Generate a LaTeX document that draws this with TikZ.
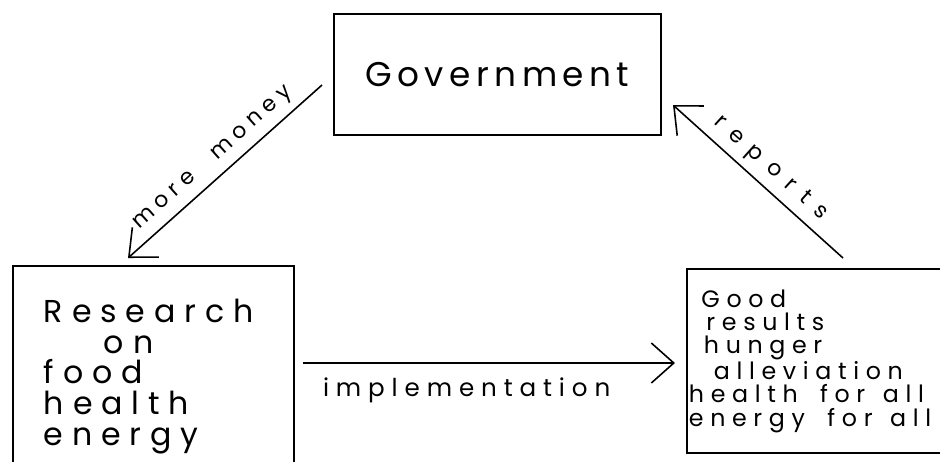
\documentclass[tikz,border=0pt]{standalone}
\usepackage{fontspec}
\usepackage{tikz}
\usetikzlibrary{arrows.meta,positioning}
\newfontfamily\handfont{Poppins}[LetterSpace=16]
\newfontfamily\handwide{Poppins}[LetterSpace=28]
\newfontfamily\handwider{Poppins}[LetterSpace=50]
\newcommand{\wsp}{\hspace{0.45cm}}

\begin{document}
\begin{tikzpicture}[x=0.02cm, y=-0.02cm,
        box/.style={draw, line width=1.1pt, anchor=north west, inner ysep=0pt},
        flow/.style={-{Straight Barb[length=4.5mm, width=8mm, line width=0.9pt]}, line width=0.9pt},
        flowback/.style={{Straight Barb[length=4.5mm, width=8mm, line width=0.9pt]}-, line width=0.9pt},
        flowlabel/.style={font=\handwide\fontsize{12.5}{12}\selectfont, inner sep=4pt}
      ]
      \useasboundingbox (0,0) rectangle (940,461);

      \node[box, minimum width=6.54cm, minimum height=2.42cm,
            font=\handfont\fontsize{19.5}{19}\selectfont] (gov) at (333,13) {Government};

      \node[box, text width=4.38cm, inner xsep=0.62cm, minimum height=4.42cm, align=left,
            font=\handwide\fontsize{18}{17.5}\selectfont] (research) at (12,265)
        {Research\\\hspace*{1.2cm}on\\food\\health\\energy};

      \node[box, text width=5.92cm, inner xsep=0.04cm, minimum height=3.68cm, align=left,
            font=\handwide\fontsize{13.5}{13.2}\selectfont] (good) at (686,268)
        {\hspace*{0.25cm}Good\\\hspace*{0.35cm}results\\\hspace*{0.3cm}hunger\\\hspace*{0.5cm}alleviation\\health\wsp for\hspace{0.35cm}all\\energy\wsp for\hspace{0.35cm}all};

      \coordinate (mmtail) at (322,85);
      \coordinate (mmtip) at (128,258);
      \coordinate (reptail) at (843,258);
      \coordinate (reptip) at (673,105);
      \coordinate (imptail) at (303,363);
      \coordinate (imptip) at (675,363);

      \draw[flowback] (mmtip) -- (mmtail)
        node[midway, sloped, above, flowlabel] (mmlabel) {more\hspace{0.55cm}money};
      \draw[flowback] (reptip) -- (reptail)
        node[midway, sloped, above, flowlabel, font=\handwider\fontsize{12.5}{12}\selectfont] (replabel) {reports};
      \draw[flow] (imptail) -- (imptip)
        node[pos=0.44, below, flowlabel, yshift=-4pt, font=\handwide\fontsize{14}{12}\selectfont] (implabel) {implementation};
    \end{tikzpicture}
\end{document}
